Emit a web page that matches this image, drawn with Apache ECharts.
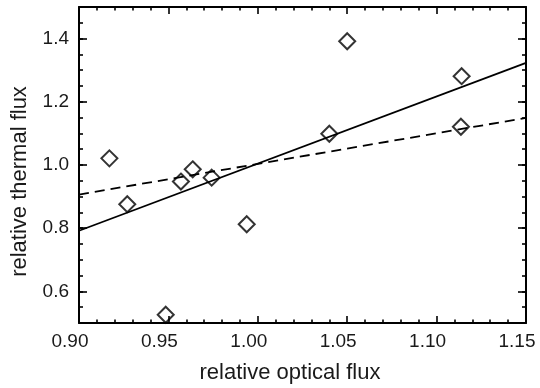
<!DOCTYPE html>
<html>
<head>
<meta charset="utf-8">
<script src="https://cdn.jsdelivr.net/npm/echarts@6/dist/echarts.min.js"></script>
<style>
html,body{margin:0;padding:0;background:#fff;}
#chart{width:540px;height:388px;}
</style>
</head>
<body>
<div id="chart"></div>
<script>
// Data
const opticalFlux = [0.917, 0.927, 0.9485, 0.957, 0.9636, 0.9742, 0.9938, 1.040, 1.050, 1.114, 1.1136];
const thermalFlux = [1.021, 0.876, 0.526, 0.9476, 0.9864, 0.960, 0.8126, 1.099, 1.3915, 1.281, 1.121];
// Fit lines (endpoints at the axis limits)
const fitX = [0.90, 1.15];
const solidFitY = [0.792, 1.323];
const dashedFitY = [0.9065, 1.149];
// Tick labels
const xTicks = [0.90, 0.95, 1.00, 1.05, 1.10, 1.15];
const yTicks = [0.6, 0.8, 1.0, 1.2, 1.4];
const xName = 'relative optical flux';
const yName = 'relative thermal flux';

const FONT = "'Liberation Sans', Arial, Helvetica, sans-serif";
const chart = echarts.init(document.getElementById('chart'), null, {renderer: 'canvas'});

const lineStyleAxis = {color: '#000', width: 2};
const tickStyle = {color: '#000', width: 1.6};
function xAxisDef(pos, labels) {
  return {
    type: 'value', position: pos, min: 0.9, max: 1.15, interval: 0.05,
    axisLine: {show: true, onZero: false, lineStyle: lineStyleAxis},
    axisTick: {show: true, inside: true, length: 7, lineStyle: tickStyle},
    minorTick: {show: true, splitNumber: 5, length: 3.5, lineStyle: tickStyle},
    splitLine: {show: false},
    axisLabel: labels ? {
      show: true, customValues: xTicks, margin: 9,
      formatter: v => v.toFixed(2),
      color: '#1a1a1a', fontFamily: FONT, fontSize: 19,
      padding: [0, 18, 0, 0]
    } : {show: false}
  };
}
function yMinorAxis(pos) {
  return {
    type: 'value', position: pos, min: 0.5, max: 1.5, interval: 0.05,
    axisLine: {show: true, onZero: false, lineStyle: lineStyleAxis},
    axisTick: {show: true, inside: true, length: 4, lineStyle: tickStyle},
    splitLine: {show: false},
    axisLabel: {show: false}
  };
}
function yMajorAxis(pos, labels) {
  return {
    type: 'value', position: pos, min: 0.5, max: 1.5, interval: 0.05,
    axisLine: {show: false, onZero: false},
    axisTick: {show: true, inside: true, length: 8, customValues: yTicks, lineStyle: tickStyle},
    splitLine: {show: false},
    axisLabel: labels ? {
      show: true, customValues: yTicks, margin: 10,
      formatter: v => v.toFixed(1),
      color: '#1a1a1a', fontFamily: FONT, fontSize: 19
    } : {show: false}
  };
}

const scatterData = opticalFlux.map((x, i) => [x, thermalFlux[i]]);

chart.setOption({
  animation: false,
  backgroundColor: '#fff',
  grid: {left: 79, right: 14, top: 7, bottom: 65, containLabel: false},
  xAxis: [xAxisDef('bottom', true), xAxisDef('top', false)],
  yAxis: [yMinorAxis('left'), yMajorAxis('left', true), yMinorAxis('right'), yMajorAxis('right', false)],
  series: [
    {
      type: 'line', xAxisIndex: 0, yAxisIndex: 0,
      data: fitX.map((x, i) => [x, solidFitY[i]]),
      showSymbol: false, symbol: 'none',
      lineStyle: {color: '#000', width: 1.8, type: 'solid'}, z: 2
    },
    {
      type: 'line', xAxisIndex: 0, yAxisIndex: 0,
      data: fitX.map((x, i) => [x, dashedFitY[i]]),
      showSymbol: false, symbol: 'none',
      lineStyle: {color: '#000', width: 1.8, type: [10, 6]}, z: 2
    },
    {
      type: 'scatter', xAxisIndex: 0, yAxisIndex: 0,
      data: scatterData,
      symbol: 'diamond', symbolSize: [16, 16],
      itemStyle: {color: 'rgba(255,255,255,0)', borderColor: '#000', borderWidth: 2}, z: 3
    }
  ],
  graphic: [
    {
      type: 'text', x: 290, y: 373,
      style: {text: xName, fontFamily: FONT, fontSize: 22, fill: '#1a1a1a', align: 'center', verticalAlign: 'middle'}
    },
    {
      type: 'text', x: 20, y: 181.5, rotation: Math.PI / 2,
      style: {text: yName, fontFamily: FONT, fontSize: 22, fill: '#1a1a1a', align: 'center', verticalAlign: 'middle'}
    }
  ]
});
</script>
</body>
</html>
